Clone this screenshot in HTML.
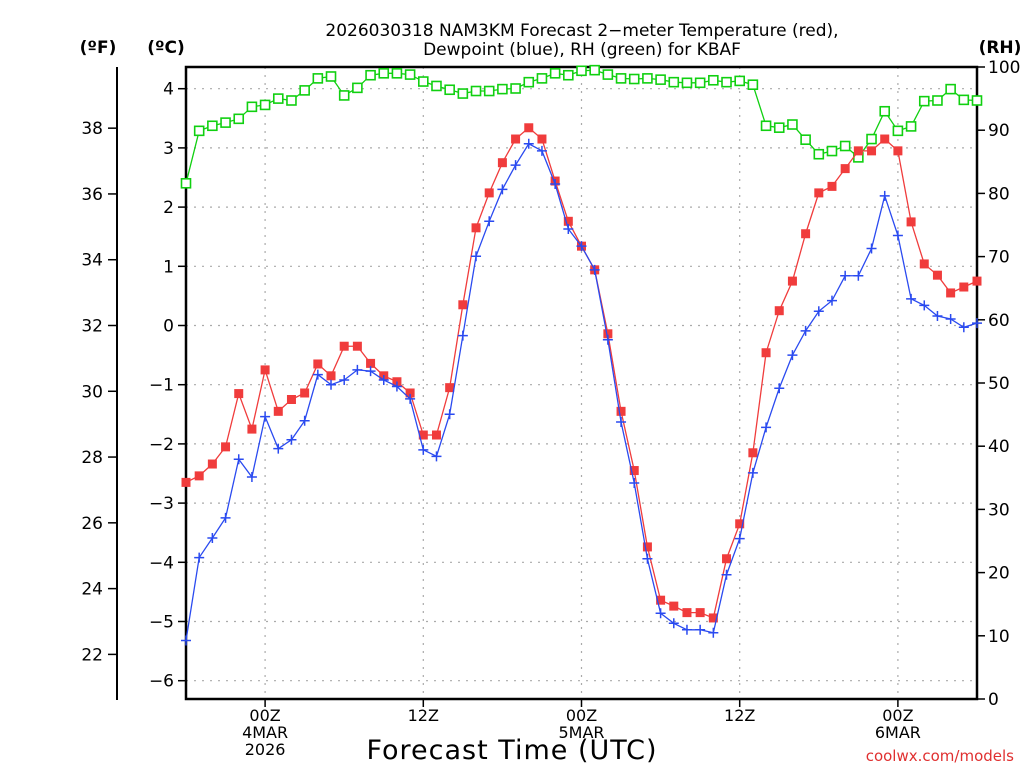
<!DOCTYPE html>
<html><head><meta charset="utf-8"><style>
html,body{margin:0;padding:0;background:#fff;}
svg{display:block;font-family:"DejaVu Sans","Liberation Sans",sans-serif;}
</style></head><body>
<svg id="chart" width="1024" height="768" viewBox="0 0 1024 768" xmlns="http://www.w3.org/2000/svg">
<rect x="0" y="0" width="1024" height="768" fill="#fff"/>
<g font-size="17" text-anchor="middle" fill="#000">
<text x="582" y="36">2026030318 NAM3KM Forecast 2−meter Temperature (red),</text>
<text x="582" y="55">Dewpoint (blue), RH (green) for KBAF</text>
</g>
<text x="98" y="53" font-size="17" font-weight="bold" text-anchor="middle">(ºF)</text>
<text x="166" y="53" font-size="17" font-weight="bold" text-anchor="middle">(ºC)</text>
<text x="1000" y="53" font-size="17" font-weight="bold" text-anchor="middle">(RH)</text>
<g id="grid"></g>
<g id="axes"></g>
<g id="series"></g>
<text x="512" y="759" font-size="27" text-anchor="middle" letter-spacing="1">Forecast Time (UTC)</text>
<text x="1014" y="761" font-size="15" fill="#e03030" text-anchor="end">coolwx.com/models</text>
</svg>
<script>
const hours = [];
for (let i = 0; i <= 60; i++) hours.push(i);
const tempC = [-2.65,-2.54,-2.34,-2.05,-1.15,-1.75,-0.75,-1.45,-1.25,-1.14,-0.65,-0.85,-0.35,-0.35,-0.64,-0.85,-0.95,-1.14,-1.85,-1.85,-1.05,0.35,1.65,2.24,2.75,3.15,3.34,3.15,2.44,1.76,1.34,0.94,-0.14,-1.45,-2.45,-3.74,-4.64,-4.74,-4.85,-4.85,-4.94,-3.94,-3.35,-2.15,-0.46,0.25,0.75,1.55,2.24,2.35,2.65,2.95,2.95,3.15,2.95,1.75,1.04,0.85,0.55,0.65,0.75];
const dewC = [-5.32,-3.92,-3.59,-3.25,-2.26,-2.56,-1.54,-2.08,-1.93,-1.61,-0.83,-1.0,-0.92,-0.75,-0.77,-0.92,-1.03,-1.24,-2.10,-2.21,-1.50,-0.17,1.17,1.76,2.30,2.71,3.07,2.95,2.39,1.63,1.34,0.94,-0.24,-1.63,-2.66,-3.94,-4.86,-5.03,-5.14,-5.14,-5.19,-4.21,-3.60,-2.49,-1.72,-1.06,-0.50,-0.09,0.24,0.42,0.84,0.84,1.30,2.19,1.52,0.45,0.34,0.16,0.11,-0.03,0.04];
const rh = [81.6,89.9,90.7,91.2,91.8,93.7,94.0,95.0,94.7,96.3,98.2,98.5,95.5,96.7,98.7,99.0,99.0,98.8,97.7,97.0,96.4,95.8,96.2,96.2,96.5,96.6,97.6,98.2,99.0,98.7,99.4,99.5,98.8,98.2,98.1,98.2,98.0,97.6,97.5,97.5,97.9,97.6,97.8,97.2,90.7,90.4,90.9,88.5,86.2,86.7,87.5,85.7,88.6,93.0,89.9,90.6,94.6,94.7,96.5,94.8,94.7];
const cTicks = [4,3,2,1,0,-1,-2,-3,-4,-5,-6];
const fTicks = [38,36,34,32,30,28,26,24,22];
const rhTicks = [100,90,80,70,60,50,40,30,20,10,0];
const xTickHours = [6,18,30,42,54];
const xTickLabels = [["00Z","4MAR","2026"],["12Z"],["00Z","5MAR"],["12Z"],["00Z","6MAR"]];

const L=186,R=977,T=67,B=699;
const xs = h => L + (h-0)*(R-L)/60;
const yC = c => 325.5 - c*59.2;
const yF = f => yC((f-32)/1.8);
const yRH = v => B - v*(B-T)/100;
const NS="http://www.w3.org/2000/svg";
function mk(tag, attrs, parent){const e=document.createElementNS(NS,tag);for(const k in attrs)e.setAttribute(k,attrs[k]);parent.appendChild(e);return e;}
const grid=document.getElementById('grid'), axes=document.getElementById('axes'), series=document.getElementById('series');

cTicks.forEach(c=>{
  const y=yC(c);
  const g=mk('line',{x1:L,x2:R,y1:y,y2:y,stroke:'#aaa','stroke-width':1.2,'stroke-dasharray':'2,6'},grid);
  
  
  mk('line',{x1:L-8,x2:L,y1:y,y2:y,stroke:'#000','stroke-width':1.5},axes);
  const t=mk('text',{x:L-12,y:y+6,'font-size':17,'text-anchor':'end',fill:'#000'},axes);
  t.textContent=c<0?'−'+Math.abs(c):String(c);
  
  
});
xTickHours.forEach((h,i)=>{
  const x=xs(h);
  const g=mk('line',{x1:x,x2:x,y1:T,y2:B,stroke:'#aaa','stroke-width':1.2,'stroke-dasharray':'2,6'},grid);
  
  
  mk('line',{x1:x,x2:x,y1:B,y2:B+8,stroke:'#000','stroke-width':1.5},axes);
  xTickLabels[i].forEach((s,j)=>{
    const t=mk('text',{x:x,y:721+j*17,'font-size':16,'text-anchor':'middle',fill:'#000'},axes);
    t.textContent=s;
    
    
  });
});
fTicks.forEach(f=>{
  const y=yF(f);
  mk('line',{x1:108,x2:117,y1:y,y2:y,stroke:'#000','stroke-width':1.5},axes);
  const t=mk('text',{x:103,y:y+6,'font-size':17,'text-anchor':'end',fill:'#000'},axes);
  t.textContent=String(f);
  
  
});
rhTicks.forEach(v=>{
  const y=yRH(v);
  mk('line',{x1:R,x2:R+8,y1:y,y2:y,stroke:'#000','stroke-width':1.5},axes);
  const t=mk('text',{x:988,y:y+6,'font-size':17,'text-anchor':'start',fill:'#000'},axes);
  t.textContent=String(v);
  
  
});
const fl=mk('line',{x1:117,x2:117,y1:T,y2:700,stroke:'#000','stroke-width':2},axes);


const fr=mk('rect',{x:L,y:T,width:R-L,height:B-T,fill:'none',stroke:'#000','stroke-width':2.5},axes);



function line(vals, yf, color, name){
  const p=mk('polyline',{points:vals.map((v,i)=>xs(hours[i])+','+yf(v)).join(' '),fill:'none',stroke:color,'stroke-width':1.3},series);
  
  
}
line(rh,yRH,'#10d010','rh-line');
rh.forEach((v,i)=>{
  const m=mk('rect',{x:xs(hours[i])-4.5,y:yRH(v)-4.5,width:9,height:9,fill:'#fff',stroke:'#10d010','stroke-width':1.6},series);
  
  
});
line(tempC,yC,'#f03c3c','temperature-line');
tempC.forEach((v,i)=>{
  const m=mk('rect',{x:xs(hours[i])-4.5,y:yC(v)-4.5,width:9,height:9,fill:'#f03c3c'},series);
  
  
});
line(dewC,yC,'#2a4af0','dewpoint-line');
dewC.forEach((v,i)=>{
  const x=xs(hours[i]),y=yC(v);
  const m=mk('path',{d:`M${x-5},${y}H${x+5}M${x},${y-5}V${y+5}`,stroke:'#2a4af0','stroke-width':1.5,fill:'none'},series);
  
  
});
</script>
</body></html>
